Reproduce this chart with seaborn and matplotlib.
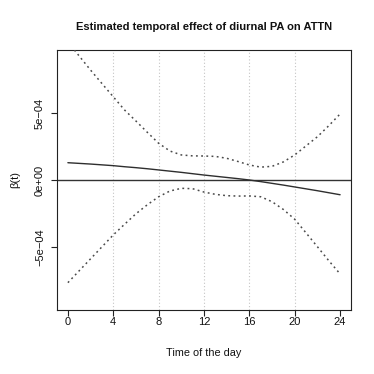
import numpy as np
import pandas as pd
import matplotlib
matplotlib.use("Agg")
import matplotlib.pyplot as plt
import seaborn as sns

# Data (values in units of 1e-4)
hours = [0, 1, 2, 3, 4, 5, 6, 7, 8, 9, 10, 11, 12, 13, 14, 15, 16, 17, 18, 19, 20, 21, 22, 23, 24]
estimate = [1.29, 1.24, 1.19, 1.13, 1.07, 0.99, 0.92, 0.84, 0.75, 0.66, 0.57, 0.47, 0.37,
            0.28, 0.19, 0.10, 0.00, -0.12, -0.25, -0.38, -0.52, -0.66, -0.80, -0.95, -1.10]
upper = [10.3, 9.25, 8.2, 7.2, 6.21, 5.22, 4.40, 3.56, 2.74, 2.16, 1.87, 1.80, 1.79,
         1.76, 1.62, 1.38, 1.12, 0.96, 1.02, 1.35, 1.87, 2.55, 3.23, 4.05, 4.93]
lower = [-7.66, -6.77, -5.88, -4.99, -4.10, -3.30, -2.52, -1.85, -1.25, -0.82, -0.62, -0.65, -0.90,
         -1.07, -1.17, -1.20, -1.19, -1.25, -1.62, -2.20, -2.93, -3.95, -4.98, -6.02, -7.01]
x_ticks = [0, 4, 8, 12, 16, 20, 24]
grid_x = [4, 8, 12, 16, 20]
y_ticks = [-5e-4, 0, 5e-4]
y_tick_labels = ["\u22125e\u221204", "0e+00", "5e\u221204"]

scale = 1e-4
df = pd.DataFrame({
    "t": hours,
    "est": np.array(estimate) * scale,
    "up": np.array(upper) * scale,
    "lo": np.array(lower) * scale,
})

sns.set_theme(style="white")
plt.rcParams["font.family"] = ["Liberation Sans", "DejaVu Sans"]

fig = plt.figure(figsize=(3.74, 3.74), dpi=100)
ax = fig.add_axes([57 / 374, 1 - 310 / 374, 294 / 374, 260 / 374])

for gx in grid_x:
    ax.axvline(gx, color="#c4c4c4", lw=0.8, ls=(0, (1, 2)), zorder=0)
ax.axhline(0, color="#333333", lw=1.0, zorder=1)

sns.lineplot(data=df, x="t", y="est", ax=ax, color="#2e2e2e", lw=1.0, zorder=3)
sns.lineplot(data=df, x="t", y="up", ax=ax, color="#4a4a4a", lw=1.1, ls=(0, (1.2, 2.2)), zorder=3)
sns.lineplot(data=df, x="t", y="lo", ax=ax, color="#4a4a4a", lw=1.1, ls=(0, (1.2, 2.2)), zorder=3)

ax.set_xlim(-0.96, 24.96)
ax.set_ylim(-9.7e-4, 9.7e-4)
ax.set_xticks(x_ticks)
ax.set_xticklabels([str(v) for v in x_ticks])
ax.set_yticks(y_ticks)
ax.set_yticklabels(y_tick_labels)

for s in ax.spines.values():
    s.set_visible(True)
    s.set_color("#222222")
    s.set_linewidth(0.8)

ax.tick_params(axis="both", which="both", direction="out", length=4.3, width=0.8,
               color="#222222", labelsize=8, labelcolor="#111111", bottom=True, left=True)
ax.tick_params(axis="x", pad=1)
ax.tick_params(axis="y", pad=4.3)
for lab in ax.get_yticklabels():
    lab.set_rotation(90)
    lab.set_va("center")
    lab.set_ha("right")

ax.set_title("Estimated temporal effect of diurnal PA on ATTN", fontsize=8.0,
             fontweight="bold", pad=14.5, color="#111111")
ax.set_xlabel("Time of the day", fontsize=7.8, color="#111111")
ax.set_ylabel("\u03b2(t)", fontsize=8.0, color="#111111")
ax.xaxis.set_label_coords(0.5, -0.148)
ax.yaxis.set_label_coords(-0.125, 0.5)

fig.savefig("out.png", dpi=100)
